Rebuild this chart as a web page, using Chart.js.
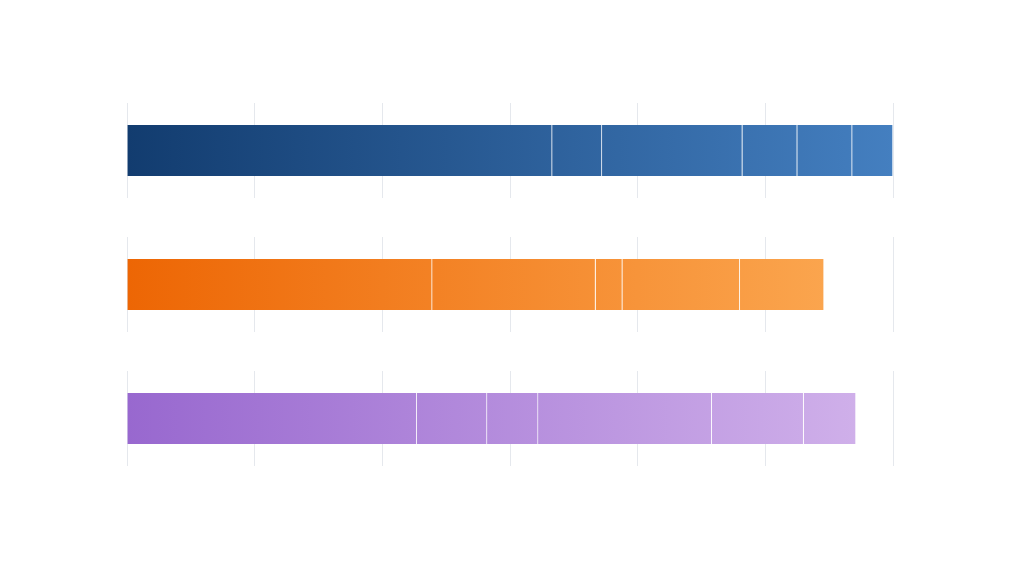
<!DOCTYPE html>
<html><head><meta charset="utf-8">
<script src="https://cdn.jsdelivr.net/npm/chart.js@4"></script>
<style>
html,body{margin:0;padding:0;background:#fff;width:1020px;height:569px;overflow:hidden}
.p{position:absolute;left:126px;width:768px;height:96px}
</style></head><body>
<div class="p" style="top:102px"><canvas id="c0"></canvas></div>
<div class="p" style="top:236px"><canvas id="c1"></canvas></div>
<div class="p" style="top:370px"><canvas id="c2"></canvas></div>
<script>
const axisMax = 60;
const gridStep = 10;
const seriesA = [33.3, 3.9, 11.0, 4.3, 4.3, 3.2];
const seriesB = [23.9, 12.8, 2.1, 9.2, 6.6];
const seriesC = [22.7, 5.5, 4.0, 13.6, 7.2, 4.1];
const panels = [
  {id:'c0', values:seriesA, from:'#123c6f', to:'#447fc0'},
  {id:'c1', values:seriesB, from:'#ed6604', to:'#fcab55'},
  {id:'c2', values:seriesC, from:'#9868cf', to:'#d2b3eb'}
];
panels.forEach(p=>{
  const bg = ctx => {
    const ch = ctx.chart, a = ch.chartArea;
    if(!a) return p.from;
    const s = ch.scales.x;
    const g = ch.ctx.createLinearGradient(s.getPixelForValue(0),0,s.getPixelForValue(axisMax),0);
    g.addColorStop(0,p.from); g.addColorStop(1,p.to);
    return g;
  };
  new Chart(document.getElementById(p.id),{
    type:'bar',
    data:{labels:[''],datasets:p.values.map(v=>({data:[v],backgroundColor:bg,borderColor:'rgba(255,255,255,0.8)',borderWidth:{left:0,right:1,top:0,bottom:0},borderSkipped:false,barThickness:51}))},
    options:{
      indexAxis:'y',responsive:true,maintainAspectRatio:false,animation:false,
      layout:{padding:{left:1,right:1,top:1,bottom:0}},
      plugins:{legend:{display:false},tooltip:{enabled:false}},
      scales:{
        x:{stacked:true,min:0,max:axisMax,ticks:{display:false,stepSize:gridStep},
           grid:{color:'#e5e8ed',lineWidth:1,drawTicks:false},border:{display:true,color:'#e5e8ed'}},
        y:{stacked:true,display:false}
      }
    }
  });
});
</script></body></html>
